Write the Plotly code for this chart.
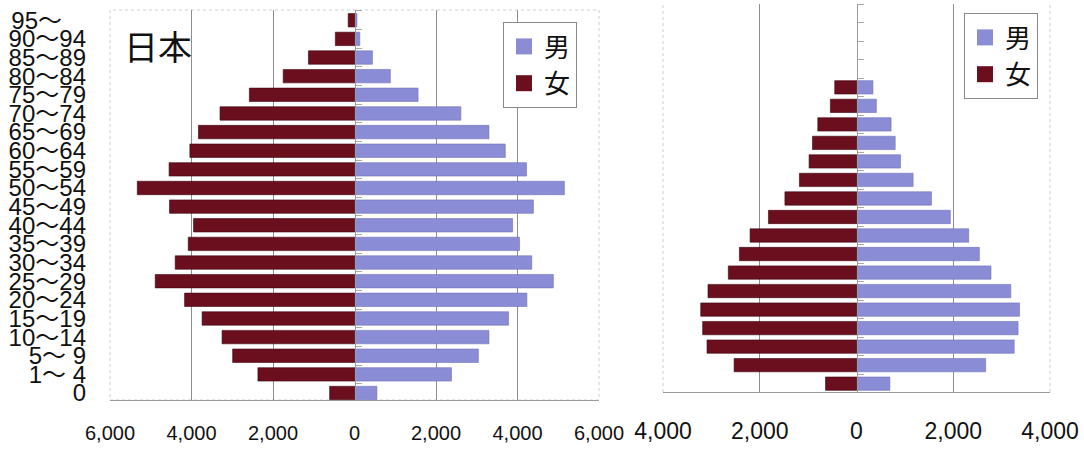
import plotly.graph_objects as go

# Age groups (bottom to top) and their axis labels
ages = ["0", "1～4", "5～9", "10～14", "15～19", "20～24", "25～29", "30～34",
        "35～39", "40～44", "45～49", "50～54", "55～59", "60～64", "65～69",
        "70～74", "75～79", "80～84", "85～89", "90～94", "95～"]
age_labels = ["0", "1～ 4", "5～ 9", "10～14", "15～19", "20～24", "25～29", "30～34",
              "35～39", "40～44", "45～49", "50～54", "55～59", "60～64", "65～69",
              "70～74", "75～79", "80～84", "85～89", "90～94", "95～\u3000"]

# 日本 (thousands of people)
male_jp = [550, 2380, 3040, 3300, 3780, 4230, 4880, 4350, 4050, 3880, 4390,
           5150, 4220, 3700, 3300, 2610, 1560, 880, 440, 130, 60]
female_jp = [610, 2370, 2990, 3250, 3740, 4170, 4890, 4400, 4080, 3950, 4540,
             5330, 4550, 4040, 3830, 3300, 2580, 1750, 1130, 470, 155]

# Second country: groups 0 .. 75～79
ages_r = ages[:17]
male_r = [690, 2670, 3260, 3340, 3370, 3190, 2780, 2540, 2320, 1940, 1550,
          1170, 910, 800, 715, 410, 340]
female_r = [640, 2530, 3090, 3180, 3220, 3070, 2650, 2420, 2200, 1820, 1480,
            1180, 980, 910, 800, 540, 450]

ticks_jp = [-6000, -4000, -2000, 0, 2000, 4000, 6000]
ticks_r = [-4000, -2000, 0, 2000, 4000]
grid_jp = [-4000, -2000, 2000, 4000]
grid_r = [-2000, 2000]


def fmt(v):
    return f"{abs(v):,}"


MALE = "#8a8dd6"
FEMALE = "#6b0e1d"
GRID = "#8e8e8e"
LATIN = "Liberation Sans, Arial, Noto Sans CJK JP, sans-serif"
CJK = "Noto Sans CJK JP, sans-serif"

W, H = 1084, 449
xd1 = [110 / W, 599 / W]
yd1 = [(H - 400) / H, (H - 10) / H]
xd2 = [663 / W, 1050 / W]
yd2 = [(H - 392) / H, (H - 4) / H]
rng_y1 = [-0.375, 20.55]
rng_y2 = [-0.45, 20.5]

fig = go.Figure()

fig.add_trace(go.Bar(y=ages, x=male_jp, orientation="h", xaxis="x", yaxis="y",
                     marker=dict(color=MALE, line=dict(color="#6f72b8", width=0.6)),
                     showlegend=False, name="男"))
fig.add_trace(go.Bar(y=ages, x=[-v for v in female_jp], orientation="h", xaxis="x", yaxis="y",
                     marker=dict(color=FEMALE, line=dict(color="#3e0610", width=0.6)),
                     showlegend=False, name="女"))
fig.add_trace(go.Bar(y=ages_r, x=male_r, orientation="h", xaxis="x2", yaxis="y2",
                     marker=dict(color=MALE, line=dict(color="#6f72b8", width=0.6)),
                     showlegend=False, name="男"))
fig.add_trace(go.Bar(y=ages_r, x=[-v for v in female_r], orientation="h", xaxis="x2", yaxis="y2",
                     marker=dict(color=FEMALE, line=dict(color="#3e0610", width=0.6)),
                     showlegend=False, name="女"))

# empty traces that attach the grid / centre-axis overlays to each panel
for xa, ya in [("x3", "y3"), ("x4", "y4")]:
    fig.add_trace(go.Scatter(x=[None], y=[None], mode="markers", xaxis=xa, yaxis=ya,
                             showlegend=False, hoverinfo="skip"))

# legend entries (square swatches), one group per item for spacing
for lg in ["legend", "legend2"]:
    for name, col in [("男", MALE), ("女", FEMALE)]:
        fig.add_trace(go.Scatter(x=[None], y=[None], mode="markers", name=name,
                                 marker=dict(symbol="square", size=16, color=col),
                                 legend=lg, legendgroup=lg + name, showlegend=True,
                                 xaxis="x", yaxis="y"))

base_x = dict(showgrid=False, zeroline=False, showline=True, linecolor="#9a9a9a",
              linewidth=1, ticks="", tickmode="array", automargin=False, fixedrange=True)
grid_x = dict(showgrid=True, gridcolor=GRID, gridwidth=1, zeroline=False, showline=False,
              ticks="", tickmode="array", showticklabels=False, automargin=False)
zero_axis = dict(anchor="free", side="right", tick0=0.5, dtick=1, ticks="outside",
                 ticklen=6, tickcolor="#aaaaaa", showline=True, linecolor="#9a9a9a",
                 showticklabels=False, showgrid=False, zeroline=False, automargin=False)
legend_style = dict(xanchor="left", yanchor="top", bgcolor="white", bordercolor="#8a8a8a",
                    borderwidth=1, tracegroupgap=0,
                    font=dict(size=26, family=CJK, color="#111"))

fig.update_layout(
    width=W, height=H,
    margin=dict(l=0, r=0, t=0, b=0, autoexpand=False),
    paper_bgcolor="white", plot_bgcolor="white",
    barmode="relative", bargap=0.28,
    xaxis=dict(domain=xd1, range=[-6000, 6000], anchor="y",
               tickvals=ticks_jp, ticktext=[fmt(v) for v in ticks_jp],
               tickfont=dict(size=20, color="#111", family=LATIN),
               ticklabelstandoff=15, **base_x),
    xaxis3=dict(overlaying="x", anchor="y", range=[-6000, 6000], tickvals=grid_jp, **grid_x),
    yaxis=dict(domain=yd1, type="category", categoryorder="array", categoryarray=ages,
               range=rng_y1, anchor="x", tickmode="array",
               tickvals=ages, ticktext=age_labels, ticks="", showgrid=False,
               showline=False, zeroline=False, automargin=False,
               tickfont=dict(size=24, color="#111", family=LATIN),
               ticklabelstandoff=23),
    yaxis3=dict(overlaying="y", position=(xd1[0] + xd1[1]) / 2, range=rng_y1, **zero_axis),
    xaxis2=dict(domain=xd2, range=[-4000, 4000], anchor="y2",
                tickvals=ticks_r, ticktext=[fmt(v) for v in ticks_r],
                tickfont=dict(size=23, color="#111", family=LATIN),
                ticklabelstandoff=18, **base_x),
    xaxis4=dict(overlaying="x2", anchor="y2", range=[-4000, 4000], tickvals=grid_r, **grid_x),
    yaxis2=dict(domain=yd2, type="category", categoryorder="array", categoryarray=ages,
                range=rng_y2, anchor="x2", showticklabels=False, ticks="",
                showgrid=False, showline=False, zeroline=False, automargin=False),
    yaxis4=dict(overlaying="y2", position=(xd2[0] + xd2[1]) / 2, range=rng_y2, **zero_axis),
    legend=dict(x=503 / W, y=(H - 22) / H, **legend_style),
    legend2=dict(x=964 / W, y=(H - 13) / H, **legend_style),
    annotations=[dict(text="日本", x=158 / W, y=(H - 46) / H, xref="paper", yref="paper",
                      xanchor="center", yanchor="middle", showarrow=False,
                      font=dict(size=34, family=CJK, color="#111"))],
    shapes=[
        dict(type="rect", xref="x domain", yref="y domain", x0=0, x1=1, y0=0, y1=1,
             line=dict(color="#cfcfcf", width=1, dash="dot"), layer="below"),
        dict(type="line", xref="x2 domain", yref="y2 domain", x0=0, x1=0, y0=0, y1=1,
             line=dict(color="#cfcfcf", width=1, dash="dot"), layer="below"),
        dict(type="line", xref="x2 domain", yref="y2 domain", x0=1, x1=1, y0=0, y1=1,
             line=dict(color="#cfcfcf", width=1, dash="dot"), layer="below"),
    ],
)

fig.write_html("out.html")
